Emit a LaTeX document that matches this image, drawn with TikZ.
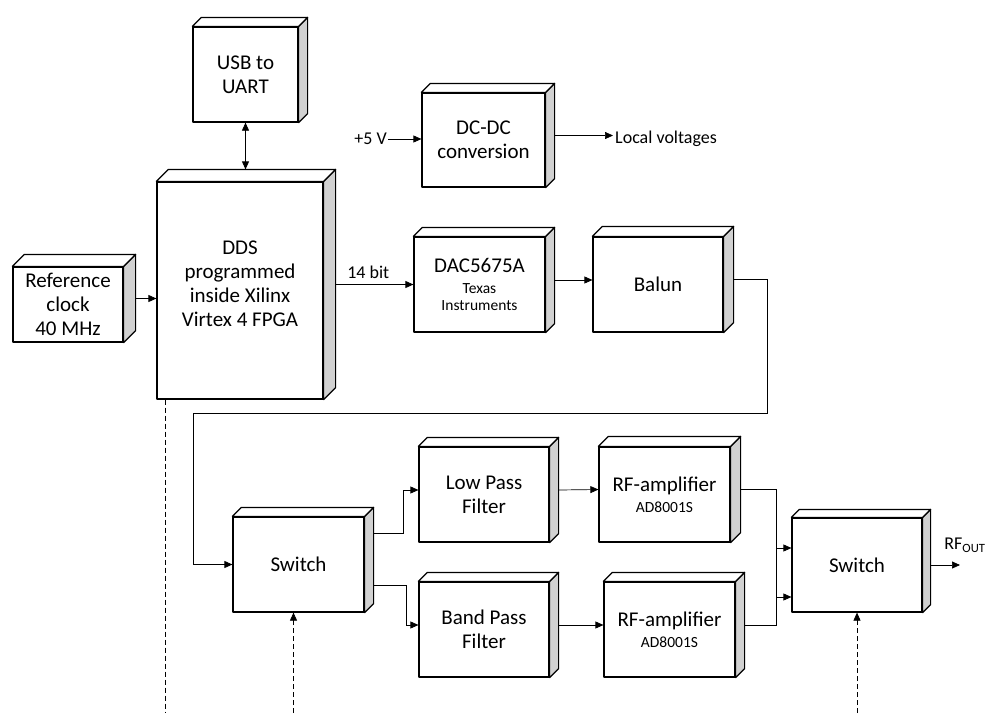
\documentclass[tikz,border=0pt]{standalone}
\usepackage{fontspec}
\setmainfont{Carlito}
\usetikzlibrary{arrows.meta,calc}

\definecolor{sidegray}{gray}{0.82}

% gray side, top face and the connection points of a block
\newcommand{\bevel}[2]{%
\draw[edge, fill=sidegray] (#1.north east) -- ++(#2,-#2) -- ([shift={(#2,-#2)}]#1.south east) -- (#1.south east) -- cycle;
\draw[edge, fill=white] (#1.north west) -- ++(#2,-#2) -- ([shift={(#2,-#2)}]#1.north east) -- (#1.north east) -- cycle;
\coordinate (#1-in) at ([shift={(0,-#2/2)}]#1.west);
\coordinate (#1-out) at ([shift={(#2,-#2/2)}]#1.east);
\coordinate (#1-top) at ([shift={(0,-#2)}]#1.north);}
\newcommand{\sm}{\fontsize{15.5}{17}\selectfont}

\begin{document}
\begin{tikzpicture}[x=1pt, y=-1pt,
  font=\fontsize{21}{24}\selectfont,
  edge/.style={line width=1.2pt, line join=round},
  blk/.style={edge, draw, fill=white, align=center, inner sep=0pt},
  link/.style={line width=0.7pt, -{Triangle[length=8pt,width=7pt]}},
  ctl/.style={line width=0.7pt, dash pattern=on 5pt off 3pt},
  lbl/.style={font=\fontsize{18}{21}\selectfont, inner sep=1pt}]

\useasboundingbox (0,0) rectangle (986,713);
\coordinate (base) at (0,713);

% upper part
\node[blk, minimum width=110pt, minimum height=75pt] (refclk) at (68,304.5) {Reference\\clock\\40 MHz};
\bevel{refclk}{12}
\node[blk, minimum width=105pt, minimum height=95pt] (usb) at (245.5,74.5) {USB to\\UART};
\bevel{usb}{9}
\node[blk, minimum width=166pt, minimum height=217pt] (dds) at (240,290.5) {DDS\\programmed\\inside Xilinx\\Virtex 4 FPGA\\[-10pt]\mbox{}};
\bevel{dds}{12}
\node[blk, minimum width=123pt, minimum height=94pt] (dcdc) at (483.5,140) {DC-DC\\conversion};
\bevel{dcdc}{9}
\node[blk, minimum width=131pt, minimum height=95pt] (dac) at (479.5,284.5) {DAC5675A\\[-3pt]\sm Texas\\[-7pt]\sm Instruments};
\bevel{dac}{9}
\node[blk, minimum width=130pt, minimum height=95pt] (balun) at (658,284.5) {Balun};
\bevel{balun}{10}

\node[lbl, anchor=east] (p5) at (388,139) {+5 V};
\node[lbl, anchor=west, inner xsep=2pt] (lv) at (613,139) {Local voltages};

% lower part
\node[blk, minimum width=131pt, minimum height=95pt] (swa) at (298.5,564.5) {Switch};
\bevel{swa}{9}
\node[blk, minimum width=130pt, minimum height=95pt] (lpf) at (484,494.5) {Low Pass\\Filter};
\bevel{lpf}{9}
\node[blk, minimum width=130pt, minimum height=95pt] (bpf) at (484,629.5) {Band Pass\\Filter};
\bevel{bpf}{9}
\node[blk, minimum width=131pt, minimum height=95pt] (ampa) at (664.5,494.5) {RF-amplifier\\[-3pt]\sm AD8001S};
\bevel{ampa}{10}
\node[blk, minimum width=131pt, minimum height=95pt] (ampb) at (669.5,629.5) {RF-amplifier\\[-3pt]\sm AD8001S};
\bevel{ampb}{9}
\node[blk, minimum width=130pt, minimum height=94pt] (swb) at (857,565) {Switch};
\bevel{swb}{8}

\node[lbl] (rfout) at (965,545) {RF\textsubscript{OUT}};

% connections
\draw[link] (refclk-out) -- (refclk-out -| dds.west);
\draw[link, {Triangle[length=8pt,width=7pt]}-{Triangle[length=8pt,width=7pt]}] (usb.south) -- (usb.south |- dds-top);
\draw[link] (p5.east) -- (p5.east -| dcdc.west);
\draw[link] (dcdc-out) -- (dcdc-out -| lv.west);
\draw[link] (dds-out) -- node[lbl, pos=.42, above=5pt] {14 bit} (dds-out -| dac.west);
\draw[link] (dac-out) -- (dac-out -| balun.west);

\coordinate (loopR) at (767,413);
\coordinate (loopL) at (193,413);
\draw[link] (balun-out) -| (loopR) -- (loopL) |- (swa.west);

\coordinate (swa-o1) at ([shift={(9,-31)}]swa.east);
\coordinate (swa-o2) at ([shift={(9,21)}]swa.east);
\draw[link] (swa-o1) -- ++(30,0) |- (lpf-in);
\draw[link] (swa-o2) -- ++(33,0) |- (bpf-in);
\draw[link] (lpf-out) -- (ampa-in);
\draw[link] (bpf-out) -- (ampb-in);

\coordinate (swb-i1) at ([yshift=-32pt]swb.west);
\coordinate (swb-i2) at ([yshift=17pt]swb.west);
\draw[link] (ampa-out) -| ([xshift=-15pt]swb-i1) -- (swb-i1);
\draw[link] (ampb-out) -| ([xshift=-15pt]swb-i2) -- (swb-i2);
\coordinate (rfo) at (960,565);
\draw[link] ([xshift=8pt]swb.east) -- (rfo);

% control lines
\coordinate (ctl1) at ([xshift=9pt]dds.south west);
\draw[ctl] (ctl1) -- (ctl1 |- base);
\coordinate (ctl2) at ([xshift=-5pt]swa.south);
\draw[ctl, -{Triangle[length=8pt,width=7pt]}] (ctl2 |- base) -- (ctl2);
\draw[ctl, -{Triangle[length=8pt,width=7pt]}] (swb.south |- base) -- (swb.south);

\end{tikzpicture}
\end{document}
